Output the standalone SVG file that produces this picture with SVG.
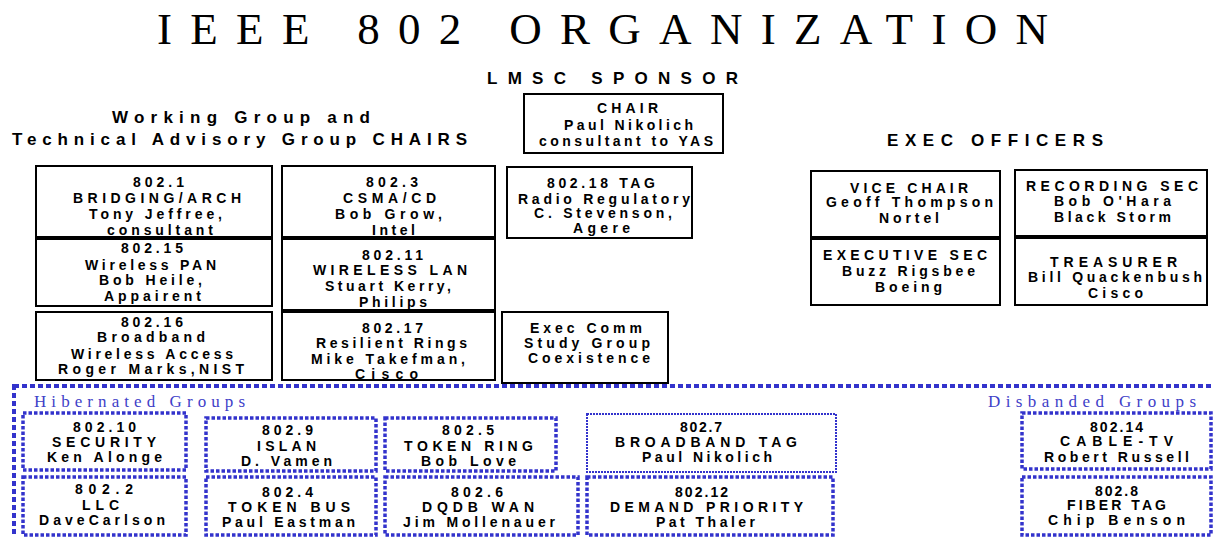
<svg xmlns="http://www.w3.org/2000/svg" width="1213" height="537" viewBox="0 0 1213 537">
<style>
.bg{fill:#fff}
.box{fill:#fff;stroke:#000;stroke-width:2}
.hb{fill:none;stroke:#3333cc;stroke-width:3.5;stroke-dasharray:3.5 2}
.fine{fill:none;stroke:#3333cc;stroke-width:2;stroke-dasharray:2 1}
.outer{fill:none;stroke:#3333cc;stroke-width:4;stroke-dasharray:5 3}
text{font-family:"Liberation Sans",Arial,sans-serif;font-weight:bold;font-size:14px;fill:#000}
.hd{font-size:17px}
.title{font-family:"Liberation Serif","Times New Roman",serif;font-weight:normal;font-size:45px}
.grp{font-family:"Liberation Serif","Times New Roman",serif;font-weight:normal;font-size:17px;fill:#4040c8}
</style>
<rect class="bg" x="0" y="0" width="1213" height="537"/>
<g id="headings">
<text class="title" x="157" y="44" textLength="891" lengthAdjust="spacing">IEEE 802 ORGANIZATION</text>
<text class="hd" x="487" y="84" textLength="251" lengthAdjust="spacing">LMSC SPONSOR</text>
<text class="hd" x="112" y="123" textLength="258" lengthAdjust="spacing">Working Group and</text>
<text class="hd" x="12" y="145" textLength="455" lengthAdjust="spacing">Technical Advisory Group CHAIRS</text>
<text class="hd" x="887" y="146" textLength="216" lengthAdjust="spacing">EXEC OFFICERS</text>
</g>
<g id="connectors"></g>
<g id="chair"><rect class="box" x="524" y="94" width="199" height="59"/>
<text x="597" y="113" textLength="61" lengthAdjust="spacing">CHAIR</text>
<text x="564" y="130" textLength="129" lengthAdjust="spacing">Paul Nikolich</text>
<text x="539" y="146" textLength="174" lengthAdjust="spacing">consultant to YAS</text></g>
<g id="n802-1"><rect class="box" x="36" y="166" width="236" height="71"/>
<text x="133" y="187" textLength="51" lengthAdjust="spacing">802.1</text>
<text x="73" y="203" textLength="168" lengthAdjust="spacing">BRIDGING/ARCH</text>
<text x="89" y="219" textLength="133" lengthAdjust="spacing">Tony Jeffree,</text>
<text x="107" y="235" textLength="106" lengthAdjust="spacing">consultant</text></g>
<g id="n802-15"><rect class="box" x="36" y="239" width="236" height="67"/>
<text x="121" y="253" textLength="62" lengthAdjust="spacing">802.15</text>
<text x="85" y="270" textLength="131" lengthAdjust="spacing">Wireless PAN</text>
<text x="99" y="285" textLength="103" lengthAdjust="spacing">Bob Heile,</text>
<text x="104" y="301" textLength="97" lengthAdjust="spacing">Appairent</text></g>
<g id="n802-16"><rect class="box" x="36" y="312" width="236" height="68"/>
<text x="121" y="327" textLength="62" lengthAdjust="spacing">802.16</text>
<text x="97" y="342" textLength="108" lengthAdjust="spacing">Broadband</text>
<text x="71" y="359" textLength="162" lengthAdjust="spacing">Wireless Access</text>
<text x="58" y="374" textLength="186" lengthAdjust="spacing">Roger Marks,NIST</text></g>
<g id="n802-3"><rect class="box" x="282" y="166" width="213" height="71"/>
<text x="366" y="187" textLength="52" lengthAdjust="spacing">802.3</text>
<text x="343" y="203" textLength="93" lengthAdjust="spacing">CSMA/CD</text>
<text x="335" y="219" textLength="107" lengthAdjust="spacing">Bob Grow,</text>
<text x="372" y="235" textLength="43" lengthAdjust="spacing">Intel</text></g>
<g id="n802-11"><rect class="box" x="282" y="239" width="213" height="71"/>
<text x="362" y="260" textLength="61" lengthAdjust="spacing">802.11</text>
<text x="313" y="275" textLength="154" lengthAdjust="spacing">WIRELESS LAN</text>
<text x="325" y="291" textLength="126" lengthAdjust="spacing">Stuart Kerry,</text>
<text x="359" y="307" textLength="68" lengthAdjust="spacing">Philips</text></g>
<g id="n802-17"><rect class="box" x="282" y="312" width="213" height="68"/>
<text x="362" y="333" textLength="61" lengthAdjust="spacing">802.17</text>
<text x="316" y="348" textLength="151" lengthAdjust="spacing">Resilient Rings</text>
<text x="311" y="364" textLength="154" lengthAdjust="spacing">Mike Takefman,</text>
<text x="355" y="379" textLength="63" lengthAdjust="spacing">Cisco</text></g>
<g id="n802-18"><rect class="box" x="507" y="167" width="185" height="71"/>
<text x="547" y="188" textLength="108" lengthAdjust="spacing">802.18 TAG</text>
<text x="518" y="204" textLength="172" lengthAdjust="spacing">Radio Regulatory</text>
<text x="534" y="218" textLength="138" lengthAdjust="spacing">C. Stevenson,</text>
<text x="573" y="233" textLength="57" lengthAdjust="spacing">Agere</text></g>
<g id="execcomm"><rect class="box" x="502" y="312" width="166" height="71"/>
<text x="530" y="333" textLength="112" lengthAdjust="spacing">Exec Comm</text>
<text x="524" y="348" textLength="126" lengthAdjust="spacing">Study Group</text>
<text x="528" y="363" textLength="122" lengthAdjust="spacing">Coexistence</text></g>
<g id="vicechair"><rect class="box" x="811" y="171" width="189" height="66"/>
<text x="850" y="193" textLength="118" lengthAdjust="spacing">VICE CHAIR</text>
<text x="826" y="207" textLength="167" lengthAdjust="spacing">Geoff Thompson</text>
<text x="879" y="223" textLength="60" lengthAdjust="spacing">Nortel</text></g>
<g id="execsec"><rect class="box" x="811" y="239" width="189" height="66"/>
<text x="823" y="260" textLength="164" lengthAdjust="spacing">EXECUTIVE SEC</text>
<text x="842" y="276" textLength="133" lengthAdjust="spacing">Buzz Rigsbee</text>
<text x="875" y="292" textLength="67" lengthAdjust="spacing">Boeing</text></g>
<g id="recsec"><rect class="box" x="1015" y="170" width="192" height="66"/>
<text x="1026" y="191" textLength="172" lengthAdjust="spacing">RECORDING SEC</text>
<text x="1054" y="206" textLength="117" lengthAdjust="spacing">Bob O'Hara</text>
<text x="1054" y="222" textLength="117" lengthAdjust="spacing">Black Storm</text></g>
<g id="treasurer"><rect class="box" x="1015" y="238" width="192" height="67"/>
<text x="1050" y="267" textLength="127" lengthAdjust="spacing">TREASURER</text>
<text x="1028" y="282" textLength="174" lengthAdjust="spacing">Bill Quackenbush</text>
<text x="1088" y="298" textLength="55" lengthAdjust="spacing">Cisco</text></g>
<g id="region">
<rect class="outer" x="14" y="386" width="1250" height="200"/>
<text class="grp" x="34" y="407" textLength="211" lengthAdjust="spacing">Hibernated Groups</text>
<text class="grp" x="988" y="407" textLength="208" lengthAdjust="spacing">Disbanded Groups</text>
</g>
<g id="n802-10"><rect class="hb" x="23" y="413" width="163" height="57"/>
<text x="73" y="432" textLength="63" lengthAdjust="spacing">802.10</text>
<text x="52" y="447" textLength="104" lengthAdjust="spacing">SECURITY</text>
<text x="47" y="462" textLength="115" lengthAdjust="spacing">Ken Alonge</text></g>
<g id="n802-2"><rect class="hb" x="23" y="477" width="163" height="58"/>
<text x="75" y="494" textLength="58" lengthAdjust="spacing">802.2</text>
<text x="82" y="510" textLength="37" lengthAdjust="spacing">LLC</text>
<text x="39" y="525" textLength="126" lengthAdjust="spacing">DaveCarlson</text></g>
<g id="n802-9"><rect class="hb" x="206" y="418" width="170" height="53"/>
<text x="262" y="435" textLength="51" lengthAdjust="spacing">802.9</text>
<text x="257" y="451" textLength="59" lengthAdjust="spacing">ISLAN</text>
<text x="241" y="466" textLength="91" lengthAdjust="spacing">D. Vamen</text></g>
<g id="n802-4"><rect class="hb" x="206" y="477" width="170" height="58"/>
<text x="262" y="497" textLength="51" lengthAdjust="spacing">802.4</text>
<text x="228" y="512" textLength="122" lengthAdjust="spacing">TOKEN BUS</text>
<text x="222" y="527" textLength="133" lengthAdjust="spacing">Paul Eastman</text></g>
<g id="n802-5"><rect class="hb" x="385" y="418" width="171" height="53"/>
<text x="442" y="435" textLength="52" lengthAdjust="spacing">802.5</text>
<text x="404" y="451" textLength="129" lengthAdjust="spacing">TOKEN RING</text>
<text x="421" y="466" textLength="95" lengthAdjust="spacing">Bob Love</text></g>
<g id="n802-6"><rect class="hb" x="385" y="477" width="193" height="58"/>
<text x="451" y="497" textLength="52" lengthAdjust="spacing">802.6</text>
<text x="422" y="512" textLength="112" lengthAdjust="spacing">DQDB WAN</text>
<text x="403" y="527" textLength="152" lengthAdjust="spacing">Jim Mollenauer</text></g>
<g id="n802-7"><rect class="fine" x="587" y="414" width="249" height="58"/>
<text x="680" y="432" textLength="42" lengthAdjust="spacing">802.7</text>
<text x="615" y="447" textLength="182" lengthAdjust="spacing">BROADBAND TAG</text>
<text x="642" y="462" textLength="130" lengthAdjust="spacing">Paul Nikolich</text></g>
<g id="n802-12"><rect class="hb" x="587" y="477" width="246" height="58"/>
<text x="675" y="497" textLength="53" lengthAdjust="spacing">802.12</text>
<text x="610" y="512" textLength="193" lengthAdjust="spacing">DEMAND PRIORITY</text>
<text x="656" y="527" textLength="99" lengthAdjust="spacing">Pat Thaler</text></g>
<g id="n802-14"><rect class="hb" x="1022" y="413" width="189" height="56"/>
<text x="1090" y="432" textLength="53" lengthAdjust="spacing">802.14</text>
<text x="1060" y="446" textLength="113" lengthAdjust="spacing">CABLE-TV</text>
<text x="1044" y="462" textLength="145" lengthAdjust="spacing">Robert Russell</text></g>
<g id="n802-8"><rect class="hb" x="1022" y="477" width="189" height="58"/>
<text x="1095" y="496" textLength="43" lengthAdjust="spacing">802.8</text>
<text x="1067" y="510" textLength="99" lengthAdjust="spacing">FIBER TAG</text>
<text x="1048" y="525" textLength="137" lengthAdjust="spacing">Chip Benson</text></g>
</svg>
